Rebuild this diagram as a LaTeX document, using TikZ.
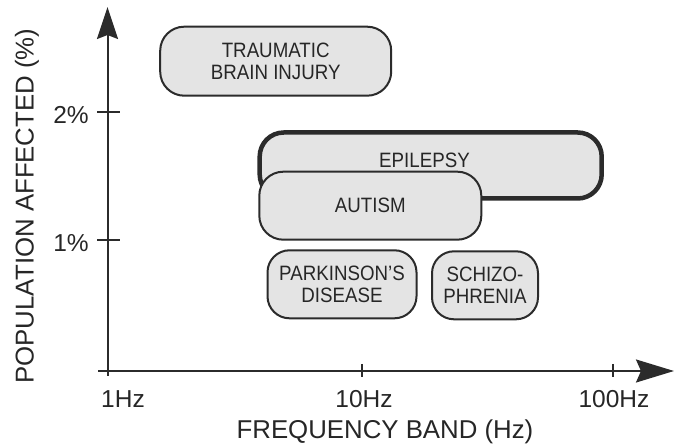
\documentclass[tikz,border=0pt]{standalone}
\usepackage{fontspec}
\setmainfont{Liberation Sans}
\newfontfamily\boxfont[FakeStretch=0.9]{Liberation Sans}
\usetikzlibrary{arrows.meta}
\definecolor{ink}{HTML}{2B2B2B}
\definecolor{txt}{HTML}{262626}
\definecolor{boxfill}{HTML}{E4E4E4}
\tikzset{
  axisline/.style={draw=ink, line width=2pt},
  tickline/.style={draw=ink, line width=2pt},
  axislabel/.style={text=txt, font=\fontsize{25.8}{30}\selectfont, inner sep=0pt},
  ticklabel/.style={text=txt, font=\fontsize{24.5}{30}\selectfont, inner sep=0pt},
  disease/.style={draw=ink, fill=boxfill, line width=2pt, rounded corners=24pt,
    inner sep=0pt, align=center, text=txt, font=\boxfont\fontsize{20.8}{22.3}\selectfont},
  diseasetext/.style={inner sep=0pt, align=center, text=txt, font=\boxfont\fontsize{20.8}{22.3}\selectfont},
}
\begin{document}
\begin{tikzpicture}[x=1pt,y=-1pt]
\useasboundingbox (0,0) rectangle (681,446);
% axes
\coordinate (origin) at (107.5,371);
\coordinate (ybottom) at (107.5,376);
\coordinate (ytop) at (107.5,7);
\coordinate (xleft) at (98,371);
\coordinate (xright) at (674,371);
\draw[axisline, -{Stealth[length=32pt,width=21pt,inset=4pt]}] (ybottom) -- (ytop);
\draw[axisline, -{Stealth[length=38pt,width=23pt,inset=5pt]}] (xleft) -- (xright);
% y ticks
\coordinate (t2a) at (97,112); \coordinate (t2b) at (120,112);
\coordinate (t1a) at (97,240.5); \coordinate (t1b) at (120,240.5);
\draw[tickline] (t2a) -- (t2b);
\draw[tickline] (t1a) -- (t1b);
% x ticks
\coordinate (x10a) at (362,364); \coordinate (x10b) at (362,377);
\coordinate (x100a) at (613,364); \coordinate (x100b) at (613,377);
\draw[tickline] (x10a) -- (x10b);
\draw[tickline] (x100a) -- (x100b);
% tick labels
\node[ticklabel] (l2) at (71,115) {2\%};
\node[ticklabel] (l1) at (71,243) {1\%};
\node[ticklabel] (l1hz) at (123,399) {1Hz};
\node[ticklabel] (l10hz) at (364,399) {10Hz};
\node[ticklabel] (l100hz) at (614,399) {100Hz};
% axis labels
\node[axislabel] (xlab) at (385,432) {FREQUENCY BAND (Hz)};
\node[axislabel, rotate=90] (ylab) at (27,206) {POPULATION AFFECTED (\%)};
% boxes
\node[disease, minimum width=231pt, minimum height=69pt] (tbi) at (275.7,61.2) {TRAUMATIC\\BRAIN INJURY};
\node[disease, line width=4.5pt, minimum width=342pt, minimum height=66pt] (epi) at (430.7,165.5) {};
\node[diseasetext] (epitext) at (424.5,160.5) {EPILEPSY};
\node[disease, minimum width=222pt, minimum height=68pt] (aut) at (370.3,205.7) {AUTISM};
\node[disease, rounded corners=22pt, minimum width=149pt, minimum height=68pt] (park) at (342,284.3) {PARKINSON’S\\DISEASE};
\node[disease, rounded corners=22pt, minimum width=106pt, minimum height=68pt] (schiz) at (485,285.3) {SCHIZO-\\PHRENIA};
\end{tikzpicture}
\end{document}
